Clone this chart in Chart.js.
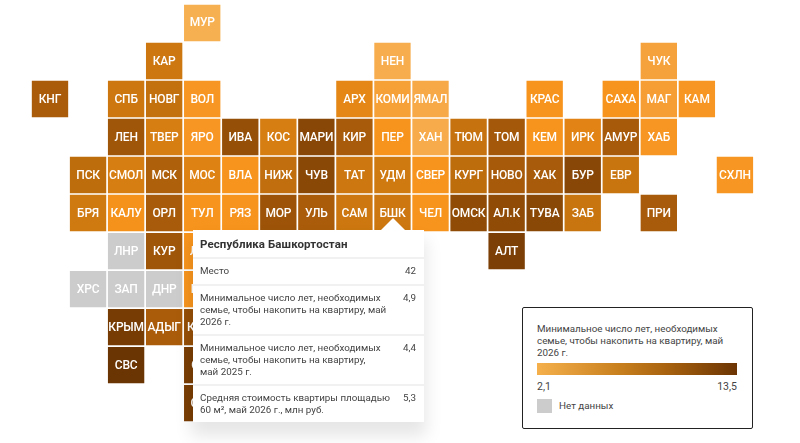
<!DOCTYPE html>
<html lang="ru">
<head>
<meta charset="utf-8">
<title>Тайловая карта</title>
<script src="https://cdn.jsdelivr.net/npm/chart.js@4"></script>
<style>
  html, body { margin: 0; padding: 0; background: #fff; }
  #wrap { position: relative; width: 800px; height: 443px; overflow: hidden; font-family: Roboto, sans-serif; color: #3c3c3c; }
  #myChart { position: absolute; left: 0; top: 0; }
  #tip { position: absolute; left: 193px; top: 230px; width: 231px; background: #f1f1f1; box-shadow: 0 12px 16px 2px rgba(0,0,0,0.10); }
  #tip:before { content: ''; position: absolute; left: 188px; top: -12px; border-left: 12px solid transparent; border-right: 12px solid transparent; border-bottom: 12px solid #fff; }
  #tip h4 { margin: 0; padding: 7px 7px 0; height: 20px; background: #fff; font-size: 11.5px; line-height: 15px; font-weight: 700; color: #333; letter-spacing: 0.1px; }
  .row { display: flex; justify-content: space-between; background: #fff; margin-top: 2px; padding: 6px 8px 6px 7px; font-size: 9.8px; line-height: 12px; color: #444; }
  .row:nth-child(2) { padding-bottom: 7px; }
  .row span:first-child { flex: none; width: 194px; }
  #legend { position: absolute; left: 522px; top: 307px; width: 229px; height: 120px; box-sizing: content-box; border: 1px solid #222; border-radius: 2px; background: #fff; }
  #legend p { position: absolute; left: 14px; top: 15px; margin: 0; width: 205px; font-size: 9.8px; line-height: 12px; color: #444; }
  #bar { position: absolute; left: 14px; top: 55px; width: 200px; height: 12px; background: linear-gradient(to right, #f5b04c 0%, #c9811f 40%, #a8620f 65%, #6b3403 100%); }
  .num { position: absolute; top: 72px; font-size: 10.5px; line-height: 14px; color: #444; }
  #swatch { position: absolute; left: 14px; top: 91px; width: 15px; height: 14px; background: #cccccc; }
  #nodata { position: absolute; left: 36px; top: 91px; font-size: 9.8px; line-height: 14px; color: #444; }
</style>
</head>
<body>
<div id="wrap">
  <canvas id="myChart" width="800" height="443"></canvas>
  <div id="tip"></div>
  <div id="legend">
    <p id="legendTitle"></p>
    <div id="bar"></div>
    <div class="num" id="minNum" style="left:14px"></div>
    <div class="num" id="maxNum" style="left:189px;width:25px;text-align:right"></div>
    <div id="swatch"></div>
    <div id="nodata">Нет данных</div>
  </div>
</div>
<script>
// tiles, column by column; the ones behind the tooltip are only partly seen
var tileLabels = ['КНГ',
  'ПСК','БРЯ','ХРС',
  'СПБ','ЛЕН','СМОЛ','КАЛУ','ЛНР','ЗАП','КРЫМ','СВС',
  'КАР','НОВГ','ТВЕР','МСК','ОРЛ','КУР','ДНР','АДЫГ',
  'МУР','ВОЛ','ЯРО','МОС','ТУЛ','ЛИП','ВОР','КРДР','СТА','СОА',
  'ИВА','ВЛА','РЯЗ',
  'КОС','НИЖ','МОР',
  'МАРИ','ЧУВ','УЛЬ',
  'АРХ','КИР','ТАТ','САМ',
  'НЕН','КОМИ','ПЕР','УДМ','БШК',
  'ЯМАЛ','ХАН','СВЕР','ЧЕЛ',
  'ТЮМ','КУРГ','ОМСК',
  'ТОМ','НОВО','АЛ.К','АЛТ',
  'КРАС','КЕМ','ХАК','ТУВА',
  'ИРК','БУР','ЗАБ',
  'САХА','АМУР','ЕВР',
  'ЧУК','МАГ','ХАБ','ПРИ',
  'КАМ','СХЛН'];
var tileCols = [0,
  1,1,1,
  2,2,2,2,2,2,2,2,
  3,3,3,3,3,3,3,3,
  4,4,4,4,4,4,4,4,4,4,
  5,5,5,
  6,6,6,
  7,7,7,
  8,8,8,8,
  9,9,9,9,9,
  10,10,10,10,
  11,11,11,
  12,12,12,12,
  13,13,13,13,
  14,14,14,
  15,15,15,
  16,16,16,16,
  17,18];
var tileRows = [2,
  4,5,7,
  2,3,4,5,6,7,8,9,
  1,2,3,4,5,6,7,8,
  0,2,3,4,5,6,7,8,9,10,
  3,4,5,
  3,4,5,
  3,4,5,
  2,3,4,5,
  1,2,3,4,5,
  2,3,4,5,
  3,4,5,
  3,4,5,6,
  2,3,4,5,
  3,4,5,
  2,3,4,
  1,2,3,5,
  2,4];
// minimum years, May 2026; null = no data
var tileValues = [6.2,
  5.4,4.8,null,
  4.9,6.8,4.6,3.7,null,null,11.5,13.5,
  4.9,5.2,4.6,6.0,6.3,6.8,null,6.2,
  2.3,3.5,3.5,4.4,3.6,3.6,3.6,7.5,11.0,11.0,
  7.5,3.6,3.6,
  4.6,5.3,7.0,
  8.5,8.2,6.2,
  4.2,6.3,4.9,4.9,
  2.4,3.0,3.6,4.8,4.9,
  2.6,2.5,3.6,3.6,
  5.1,5.4,7.8,
  6.6,6.4,7.8,10.5,
  3.6,3.6,6.3,8.2,
  4.3,8.5,5.0,
  3.6,6.4,5.0,
  2.9,3.1,3.5,6.3,
  3.5,3.5];

var legendTitle = 'Минимальное число лет, необходимых семье, чтобы накопить на квартиру, май 2026 г.';
var legendMin = '2,1';
var legendMax = '13,5';

var tipTitle = 'Республика Башкортостан';
var tipLabels = ['Место',
  'Минимальное число лет, необходимых семье, чтобы накопить на квартиру, май 2026 г.',
  'Минимальное число лет, необходимых семье, чтобы накопить на квартиру,<br>май 2025 г.',
  'Средняя стоимость квартиры площадью 60 м², май 2026 г., млн руб.'];
var tipValues = ['42', '4,9', '4,4', '5,3'];

// colour ramp of the map, value -> rgb
var rampValues = [2.1, 3.0, 3.6, 4.4, 5.0, 6.2, 8.2, 13.5];
var rampColors = [[247,180,88],[246,160,56],[247,148,29],[222,130,20],[200,117,15],[170,92,10],[138,72,6],[106,52,3]];

function tileColor(v) {
  if (v === null) return '#cccccc';
  for (var i = 1; i < rampValues.length; i++) {
    if (v <= rampValues[i]) {
      var t = (v - rampValues[i-1]) / (rampValues[i] - rampValues[i-1]);
      var a = rampColors[i-1], b = rampColors[i];
      return 'rgb(' + Math.round(a[0]+(b[0]-a[0])*t) + ',' + Math.round(a[1]+(b[1]-a[1])*t) + ',' + Math.round(a[2]+(b[2]-a[2])*t) + ')';
    }
  }
  return 'rgb(106,52,3)';
}

// no datalabels plugin here, so the tile names are drawn after the points
var tileNames = {
  id: 'tileNames',
  afterDatasetsDraw: function(chart) {
    var ctx = chart.ctx;
    var meta = chart.getDatasetMeta(0);
    ctx.save();
    ctx.fillStyle = '#fff';
    ctx.font = '500 12px Roboto';
    ctx.letterSpacing = '-0.2px';
    ctx.textAlign = 'center';
    ctx.textBaseline = 'middle';
    meta.data.forEach(function(el, i) {
      ctx.fillText(tileLabels[i], el.x, el.y + 0.5);
    });
    ctx.restore();
  }
};

var points = [];
for (var i in tileLabels) {
  points.push({x: tileCols[i], y: tileRows[i]});
}

var ctx = document.getElementById('myChart').getContext('2d');
var tileChart = new Chart(ctx, {
  type: 'scatter',
  data: {
    datasets: [{
      data: points,
      pointStyle: 'rect',
      pointRadius: 25.7,
      pointHoverRadius: 25.7,
      borderWidth: 0,
      pointBorderWidth: 0,
      backgroundColor: tileValues.map(tileColor)
    }]
  },
  plugins: [tileNames],
  options: {
    responsive: false,
    animation: false,
    events: [],
    layout: { padding: 0, autoPadding: false },
    plugins: { legend: { display: false }, tooltip: { enabled: false } },
    scales: {
      x: { display: false, min: -1.314, max: 19.71 },
      y: { display: false, reverse: true, min: -0.605, max: 11.05 }
    }
  }
});

var tipHtml = '<h4>' + tipTitle + '</h4>';
for (var k = 0; k < tipLabels.length; k++) {
  tipHtml += '<div class="row"><span>' + tipLabels[k] + '</span><span>' + tipValues[k] + '</span></div>';
}
document.getElementById('tip').innerHTML = tipHtml;
document.getElementById('legendTitle').textContent = legendTitle;
document.getElementById('minNum').textContent = legendMin;
document.getElementById('maxNum').textContent = legendMax;
</script>
</body>
</html>
